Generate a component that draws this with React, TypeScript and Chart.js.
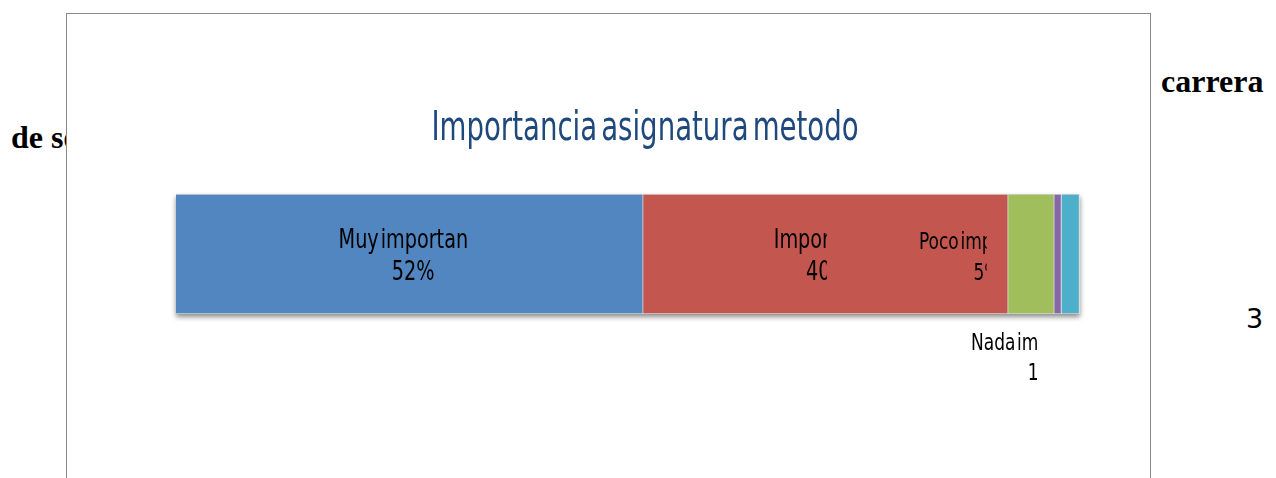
import React, { useEffect, useRef } from "react";
import { Chart, registerables } from "chart.js";

Chart.register(...registerables);

const chartTitle = "Importancia asignatura metodo";
const categories = ["Muy importante", "Importante", "Poco importante", "Nada importante", "No contesta"];
const values = [51.7, 40.4, 5.1, 0.8, 2.0];
const colors = ["#5286C0", "#C3564F", "#A0BF5C", "#8567A7", "#4DAFCA"];

// label placement (styling): x offset of label centre from segment centre, font size,
// clip edge relative to segment centre, baseline offsets from bar centre
const labelSpecs = [
  { dx: 3.5, size: 26, clip: 58, dy: [-6.5, 26] },
  { dx: 1.7, size: 26, clip: 1.2, dy: [-6.5, 26] },
  { dx: -44.2, size: 23, clip: -44.5, dy: [-5.5, 26] },
  { dx: -16.5, size: 23, clip: -20.8, dy: [96, 126] },
  null,
];

const LABEL_SCALE = 0.74;

const segPlugin = {
  id: "segPlugin",
  beforeDatasetsDraw(chart: any) {
    const { ctx, chartArea, scales } = chart;
    const x = scales.x;
    const total = values.reduce((a, b) => a + b, 0);
    const l = x.getPixelForValue(0);
    const r = x.getPixelForValue(total);
    ctx.save();
    ctx.shadowColor = "rgba(0,0,0,0.45)";
    ctx.shadowBlur = 5;
    ctx.shadowOffsetX = 0;
    ctx.shadowOffsetY = 3;
    ctx.fillStyle = "#ffffff";
    ctx.fillRect(l, chartArea.top, r - l, chartArea.bottom - chartArea.top);
    ctx.restore();
  },
  afterDatasetsDraw(chart: any) {
    const { ctx, chartArea, scales } = chart;
    const x = scales.x;
    const total = values.reduce((a, b) => a + b, 0);
    const cy = (chartArea.top + chartArea.bottom) / 2;
    let cum = 0;
    values.forEach((v, i) => {
      const x0 = x.getPixelForValue(cum);
      cum += v;
      const x1 = x.getPixelForValue(cum);
      const spec = labelSpecs[i];
      if (!spec) return;
      const sc = (x0 + x1) / 2;
      const pct = Math.round((v / total) * 100) + "%";
      ctx.save();
      ctx.beginPath();
      ctx.rect(0, 0, sc + spec.clip, chart.height);
      ctx.clip();
      ctx.font = `${spec.size}px "DejaVu Sans"`;
      ctx.fillStyle = "#000000";
      ctx.textAlign = "center";
      ctx.textBaseline = "alphabetic";
      [categories[i], pct].forEach((t, j) => {
        ctx.save();
        ctx.translate(sc + spec.dx, cy + spec.dy[j]);
        ctx.scale(LABEL_SCALE, 1);
        (ctx as any).wordSpacing = `${-0.22 * spec.size}px`;
        ctx.fillText(t, 0, 0);
        ctx.restore();
      });
      ctx.restore();
    });
  },
  afterDraw(chart: any) {
    const { ctx } = chart;
    ctx.save();
    ctx.font = '40px "DejaVu Sans"';
    ctx.fillStyle = "#1F497D";
    ctx.textAlign = "center";
    ctx.textBaseline = "alphabetic";
    ctx.translate(578, 125.5);
    ctx.scale(0.69, 1);
    (ctx as any).wordSpacing = "-6.9px";
    ctx.fillText(chartTitle, 0, 0);
    ctx.restore();
  },
};

export default function App() {
  const ref = useRef<HTMLCanvasElement | null>(null);
  useEffect(() => {
    if (!ref.current) return;
    const total = values.reduce((a, b) => a + b, 0);
    const chart = new Chart(ref.current, {
      type: "bar",
      data: {
        labels: [""],
        datasets: categories.map((c, i) => ({
          label: c,
          data: [values[i]],
          backgroundColor: colors[i],
          borderColor: "#d4d4d4",
          borderWidth: 1,
          barPercentage: 1,
          categoryPercentage: 1,
        })),
      },
      options: {
        indexAxis: "y",
        responsive: false,
        animation: false,
        devicePixelRatio: 1,
        layout: { padding: { left: 109, right: 70.5, top: 180, bottom: 170 } },
        plugins: { legend: { display: false }, title: { display: false }, tooltip: { enabled: false } },
        scales: {
          x: { stacked: true, display: false, min: 0, max: total },
          y: { stacked: true, display: false },
        },
      },
      plugins: [segPlugin],
    } as any);
    return () => chart.destroy();
  }, []);

  return (
    <div style={{ position: "absolute", left: 0, top: 0, width: 1276, height: 478, overflow: "hidden", background: "#fff" }}>
      <div style={{ position: "absolute", left: 11, top: 121, font: 'bold 32px "Liberation Serif"', lineHeight: "32px", whiteSpace: "nowrap", color: "#000" }}>de se</div>
      <div style={{ position: "absolute", left: 1161, top: 65, font: 'bold 32px "Liberation Serif"', lineHeight: "32px", whiteSpace: "nowrap", color: "#000" }}>carrera</div>
      <div style={{ position: "absolute", left: 1246, top: 305, font: '27px "DejaVu Sans"', lineHeight: "27px", whiteSpace: "nowrap", color: "#000" }}>3</div>
      <div style={{ position: "absolute", left: 66, top: 13, width: 1083, height: 480, border: "1px solid #8a8a8a", background: "#fff" }}>
        <canvas ref={ref} width={1083} height={470} style={{ display: "block" }} />
      </div>
    </div>
  );
}
